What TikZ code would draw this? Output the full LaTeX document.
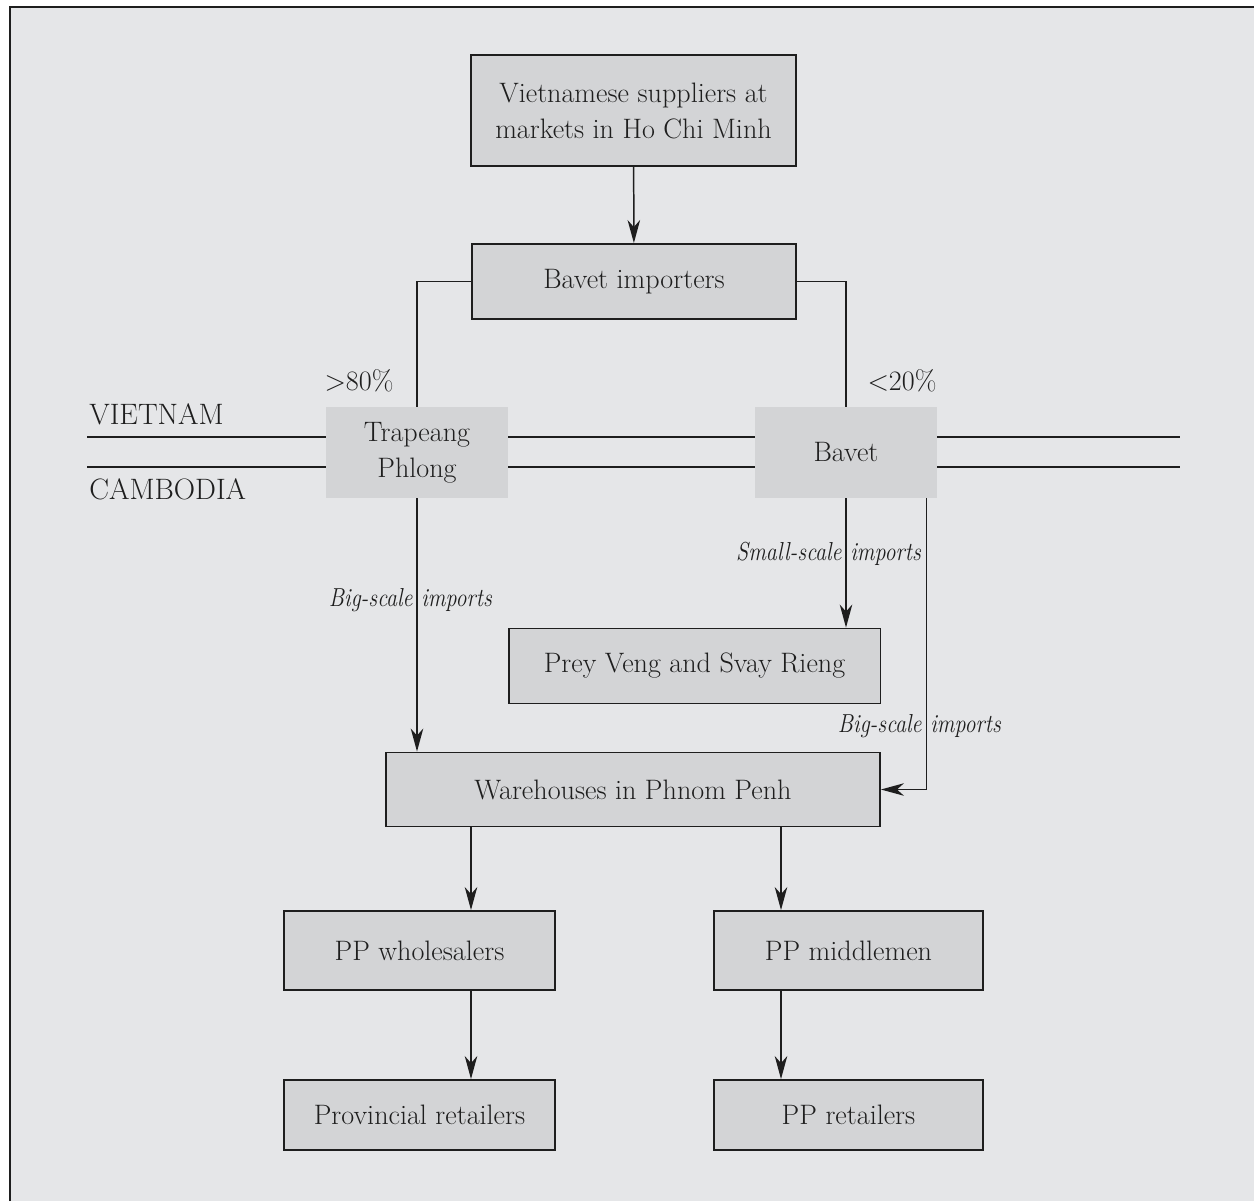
\documentclass[tikz,border=0pt]{standalone}
\usepackage{fontspec}
\usepackage{graphicx}
\usetikzlibrary{arrows.meta}
\definecolor{panel}{HTML}{E5E6E8}
\definecolor{boxfill}{HTML}{D3D4D6}
\definecolor{ink}{HTML}{1E1E1E}
% narrow italic for the flow labels
\newcommand{\flowtext}[1]{\scalebox{0.85}[1]{#1}}
\begin{document}
\begin{tikzpicture}[x=0.02cm,y=-0.02cm,
  every node/.style={font=\fontsize{16}{20.5}\selectfont, text=ink},
  box/.style={draw=ink, fill=boxfill, line width=1.1pt, inner sep=0pt, align=center},
  gate/.style={fill=boxfill, inner sep=0pt, align=center,
               minimum width=3.64cm, minimum height=1.82cm},
  link/.style={draw=ink, line width=0.85pt},
  arr/.style={link, -{Stealth[length=0.46cm,width=0.25cm,inset=0.14cm]}},
  flowlabel/.style={font=\fontsize{14.8}{18}\selectfont\itshape, inner sep=0pt},
  plain/.style={inner sep=0pt},
  country/.style={plain, anchor=base west, font=\fontsize{16.8}{20}\selectfont},
  frameline/.style={draw=ink, line width=1.2pt},
  borderline/.style={draw=ink, line width=0.9pt},
]
\useasboundingbox (0,0) rectangle (1254,1201);

% panel with its top and left rules
\fill[panel] (10,7) rectangle (1254,1201);
\draw[frameline] (10,1201) -- (10,7) -- (1254,7);

% the frontier between the two countries
\draw[borderline] (87,437) -- (1180,437);
\draw[borderline] (87,467) -- (1180,467);
\node[country] (vn) at (89,424) {VIETNAM};
\node[country] (kh) at (89,499) {CAMBODIA};

% boxes
\node[box, minimum width=6.5cm, minimum height=2.22cm] (sup) at (633.5,110.5)
  {Vietnamese suppliers at\\markets in Ho Chi Minh};
\node[box, minimum width=6.48cm, minimum height=1.5cm] (imp) at (634,281.5)
  {Bavet importers};
\node[gate] (tp) at (417,452.5) {Trapeang\\Phlong};
\node[gate] (bv) at (846,452.5) {Bavet};
\node[box, minimum width=7.44cm, minimum height=1.5cm] (pv) at (694.5,666)
  {Prey Veng and Svay Rieng};
\node[box, minimum width=9.88cm, minimum height=1.48cm] (wh) at (633,789.5)
  {Warehouses in Phnom Penh};
\node[box, minimum width=5.42cm, minimum height=1.58cm] (whs) at (419.5,950.5)
  {PP wholesalers};
\node[box, minimum width=5.42cm, minimum height=1.4cm] (pr) at (419.5,1115)
  {Provincial retailers};
\node[box, minimum width=5.38cm, minimum height=1.58cm] (mid) at (848.5,950.5)
  {PP middlemen};
\node[box, minimum width=5.38cm, minimum height=1.4cm] (ppr) at (848.5,1115)
  {PP retailers};

% shares
\node[plain, anchor=base] (p80) at (359,390) {>80\%};
\node[plain, anchor=base] (p20) at (902,390) {<20\%};

% connectors
\draw[arr] (sup) -- (imp);
\draw[link] (imp.west) -| (tp.north);
\draw[link] (imp.east) -| (bv.north);
\draw[arr] (tp.south) -- (wh.north -| tp.south);
\draw[arr] (bv.south) -- (pv.north -| bv.south);
\coordinate (bvr) at ([xshift=-0.22cm]bv.south east);
\draw[arr] (bvr) |- (wh.east);

\coordinate (colL) at (471,0);
\coordinate (colR) at (781,0);
\draw[arr] (wh.south -| colL) -- (whs.north -| colL);
\draw[arr] (whs.south -| colL) -- (pr.north -| colL);
\draw[arr] (wh.south -| colR) -- (mid.north -| colR);
\draw[arr] (mid.south -| colR) -- (ppr.north -| colR);

% flow labels, split by the lines they sit on
\node[flowlabel, anchor=base east] (ssa) at (842,560) {\flowtext{Small-scale}};
\node[flowlabel, anchor=base west] (ssb) at (850,560) {\flowtext{imports}};
\node[flowlabel, anchor=base east] (bsa) at (413,606) {\flowtext{Big-scale}};
\node[flowlabel, anchor=base west] (bsb) at (421,606) {\flowtext{imports}};
\node[flowlabel, anchor=base east] (bta) at (922,732) {\flowtext{Big-scale}};
\node[flowlabel, anchor=base west] (btb) at (930,732) {\flowtext{imports}};
\end{tikzpicture}
\end{document}
